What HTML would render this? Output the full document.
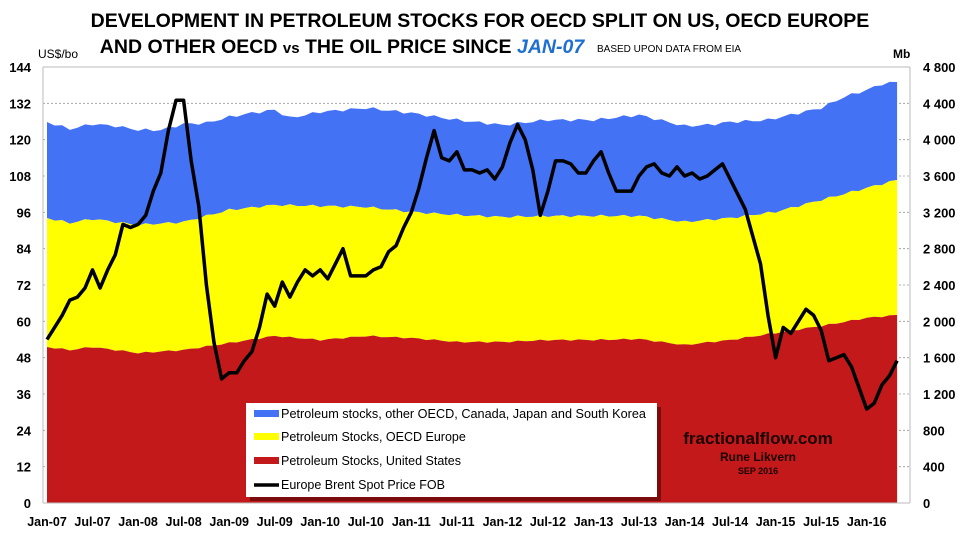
<!DOCTYPE html>
<html><head><meta charset="utf-8"><style>
body{margin:0;background:#fff;}
svg text{font-family:"Liberation Sans",sans-serif;}
</style></head><body>
<svg id="c" width="960" height="540" xmlns="http://www.w3.org/2000/svg">
<rect width="960" height="540" fill="#fff"/>
<text x="480" y="27" text-anchor="middle" font-size="19.5" font-weight="bold">DEVELOPMENT IN PETROLEUM STOCKS FOR OECD SPLIT ON US, OECD EUROPE</text>
<text x="342" y="53" text-anchor="middle" font-size="19.5" font-weight="bold">AND OTHER OECD <tspan font-size="15">vs</tspan> THE OIL PRICE SINCE <tspan fill="#1f6fd0" font-style="italic">JAN-07</tspan></text>
<text x="597" y="52" font-size="10">BASED UPON DATA FROM EIA</text>
<text x="38" y="58" font-size="12">US$/bo</text>
<text x="893" y="58" font-size="12" font-weight="bold">Mb</text>
<g id="grid"></g>
<g id="areas"></g>
<g id="ticks" font-weight="bold"></g>
<polyline id="price" fill="none" stroke="#000" stroke-width="3.5" stroke-linejoin="round"/>
<rect x="250" y="407" width="411" height="94" fill="#7a0c0c"/>
<rect x="246" y="403" width="411" height="94" fill="#fff"/>
<rect x="254" y="410" width="25" height="7" fill="#4472f5"/>
<rect x="254" y="433" width="25" height="7" fill="#ffff00"/>
<rect x="254" y="457" width="25" height="7" fill="#c3191b"/>
<line x1="254" y1="485" x2="279" y2="485" stroke="#000" stroke-width="3.5"/>
<g font-size="12.5">
<text x="281" y="418" textLength="365" lengthAdjust="spacingAndGlyphs">Petroleum stocks, other OECD, Canada, Japan and South Korea</text>
<text x="281" y="441">Petroleum Stocks, OECD Europe</text>
<text x="281" y="465">Petroleum Stocks, United States</text>
<text x="281" y="489">Europe Brent Spot Price FOB</text>
</g>
<text x="758" y="444" text-anchor="middle" font-size="17" fill="#1a0000" font-weight="bold">fractionalflow.com</text>
<text x="758" y="461" text-anchor="middle" font-size="12" fill="#1a0000" font-weight="bold">Rune Likvern</text>
<text x="758" y="474" text-anchor="middle" font-size="9" fill="#1a0000" font-weight="bold">SEP 2016</text>
</svg>
<script>
const X0=47,DX=7.59,Y0=503,K=436/144;
const N=113;
function interp(kp){const a=[];for(let i=0;i<N;i++){let j=0;while(j<kp.length-2&&kp[j+1][0]<=i)j++;const [x1,y1]=kp[j],[x2,y2]=kp[j+1];a.push(y1+(y2-y1)*(i-x1)/(x2-x1));}return a;}
const blue=interp([[0,122],[3,129],[6,124],[9,126],[12,130],[15,130],[18,124],[21,123],[24,117],[27,113],[30,110],[32,118],[36,112],[42,108],[48,113],[54,120],[60,125],[66,120],[72,120],[78,115],[84,126],[87,125],[90,122],[95,120],[102,108],[105,97],[108,90],[110,84],[112,82]]);
const yel=interp([[0,218],[3,223],[6,219],[12,225],[18,222],[24,210],[30,205],[36,206],[42,207],[48,212],[54,215],[60,217],[66,216],[72,216],[78,216],[84,222],[90,218],[96,212],[102,200],[108,188],[112,180]]);
const red=interp([[0,347],[3,350],[6,347],[12,353],[18,350],[24,343],[30,336],[36,340],[42,336],[48,338],[54,342],[60,342],[66,340],[72,340],[78,339],[84,345],[90,340],[96,333],[102,326],[108,318],[112,315]]);
const price=[54,58,62,67,68,71,77,71,77,82,92,91,92,95,103,109,123,133,133,113,98,72,53,41,43,43,47,50,58,69,65,73,68,73,77,75,77,74,79,84,75,75,75,77,78,83,85,91,96,104,114,123,114,113,116,110,110,109,110,107,111,119,125,120,110,95,103,113,113,112,109,109,113,116,109,103,103,103,108,111,112,109,108,111,108,109,107,108,110,112,107,102,97,88,79,62,48,58,56,60,64,62,57,47,48,49,45,38,31,33,39,42,47];
const xs=i=>(X0+i*DX).toFixed(1);
function area(top,bot,col){let d='M'+xs(0)+','+top[0];for(let i=1;i<N;i++)d+='L'+xs(i)+','+top[i].toFixed(1);for(let i=N-1;i>=0;i--)d+='L'+xs(i)+','+(bot?bot[i].toFixed(1):Y0);return `<path d="${d}Z" fill="${col}"/>`;}
const jit=(a,s)=>a.map((v,i)=>v+Math.sin(i*2.3)*s);
const b=jit(blue,1.5),y=jit(yel,1.2),r=jit(red,0.8);
document.getElementById('areas').innerHTML=area(b,y,'#4472f5')+area(y,r,'#ffff00')+area(r,null,'#c3191b');
let g='';
for(let k=1;k<=12;k++){const yy=(Y0-k*12*K).toFixed(1);g+=`<line x1="43" x2="910" y1="${yy}" y2="${yy}" stroke="#999" stroke-dasharray="2,2" stroke-width="0.8"/>`;}
document.getElementById('grid').innerHTML=g;
let t=`<line x1="43" y1="67" x2="910" y2="67" stroke="#bbb"/><line x1="910" y1="67" x2="910" y2="503" stroke="#bbb"/><line x1="43" y1="67" x2="43" y2="503" stroke="#bbb"/><line x1="43" y1="503" x2="910" y2="503" stroke="#bbb"/>`;
for(let k=0;k<=12;k++){const yy=Y0-k*12*K;t+=`<text x="31" y="${(yy+5).toFixed(1)}" text-anchor="end" font-size="13">${k*12}</text>`;const mb=k*400;const s=mb>=1000?Math.floor(mb/1000)+' '+String(mb%1000).padStart(3,'0'):String(mb);t+=`<text x="923" y="${(yy+5).toFixed(1)}" font-size="13">${s}</text>`;}
const labs=['Jan-07','Jul-07','Jan-08','Jul-08','Jan-09','Jul-09','Jan-10','Jul-10','Jan-11','Jul-11','Jan-12','Jul-12','Jan-13','Jul-13','Jan-14','Jul-14','Jan-15','Jul-15','Jan-16'];
labs.forEach((l,i)=>{t+=`<text x="${xs(i*6)}" y="526" text-anchor="middle" font-size="12.5">${l}</text>`;});
document.getElementById('ticks').innerHTML=t;
document.getElementById('price').setAttribute('points',price.map((p,i)=>xs(i)+','+(Y0-p*K).toFixed(1)).join(' '));
</script>
</body></html>
